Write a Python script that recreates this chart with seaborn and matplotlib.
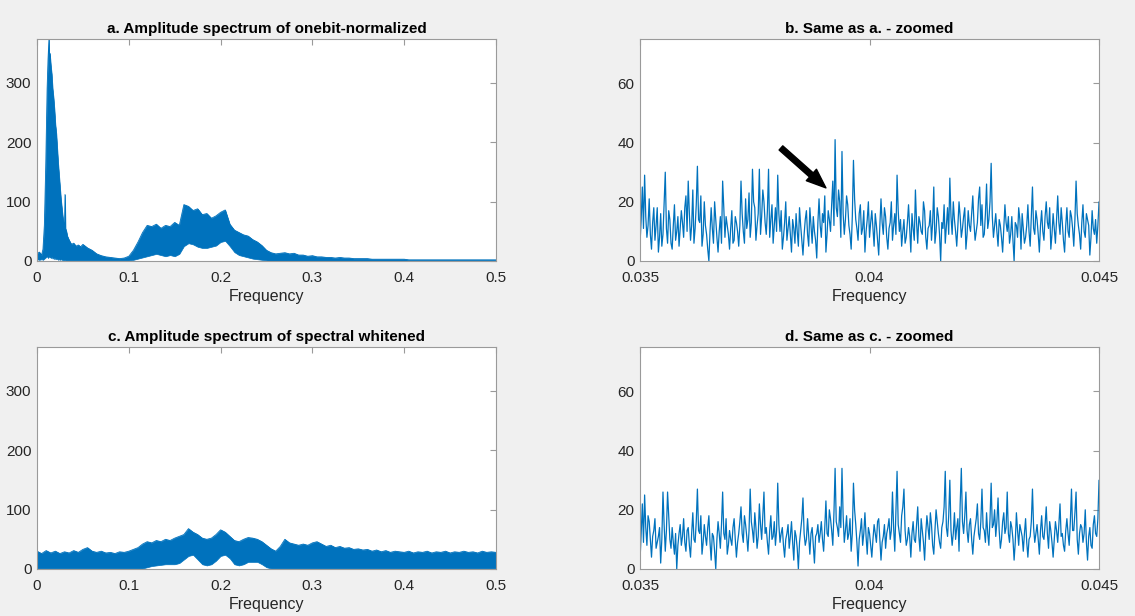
import matplotlib
matplotlib.use("Agg")
import matplotlib.pyplot as plt
import seaborn as sns

# Settings
sns.set_style("white")
plt.rcParams["font.family"] = ["Liberation Sans", "DejaVu Sans"]
blue = "#0072BD"
grey_bg = "#f0f0f0"
axis_col = "#9a9a9a"
text_col = "#262626"

# ---------------------------------------------------------------------
# Data
# a. onebit-normalized spectrum: upper / lower edge of the dense band
freq_a = [0, 0.0025, 0.005, 0.0065, 0.008, 0.0095, 0.011, 0.012, 0.013, 0.0135,
          0.014, 0.015, 0.016, 0.017, 0.018, 0.019, 0.02, 0.021, 0.022, 0.023,
          0.024, 0.025, 0.026, 0.027, 0.028, 0.029, 0.03, 0.0305, 0.031, 0.032,
          0.033, 0.035, 0.0375, 0.04, 0.0425, 0.045, 0.0475, 0.05]
freq_a += [round(0.05 + 0.005 * k, 3) for k in range(1, 91)]

upper_a = [12, 15, 10, 20, 60, 160, 290, 340, 374, 330,
           350, 330, 315, 290, 275, 255, 230, 215, 190, 165,
           145, 125, 105, 90, 75, 65, 60, 112, 55, 50,
           42, 35, 28, 30, 25, 27, 24, 28,
           22, 18, 12, 9, 7, 6, 5, 4, 5, 8,
           18, 32, 48, 60, 58, 62, 55, 60, 58, 65,
           60, 95, 92, 85, 88, 78, 80, 72, 76, 82,
           86, 62, 52, 48, 44, 42, 36, 32, 26, 18,
           14, 12, 13, 14, 12, 13, 10, 10, 8, 9,
           7, 7, 6, 6, 5, 6, 5, 5, 4, 4,
           4, 4, 3, 3, 3, 3, 3, 3, 3, 3,
           2, 2, 2, 2, 2, 2, 2, 2, 2, 2,
           2, 2, 2, 2, 2, 2, 2, 2, 2, 2]
lower_a = [3, 2, 3, 2, 4, 6, 8, 5, 10, 6,
           8, 5, 7, 4, 6, 3, 5, 3, 4, 2,
           3, 2, 3, 2, 2, 1, 2, 2, 1, 1,
           1, 1, 1, 1, 1, 1, 1, 1,
           1, 1, 1, 1, 1, 1, 1, 1, 1, 1,
           2, 4, 6, 8, 10, 12, 10, 8, 10, 8,
           12, 25, 30, 28, 24, 22, 22, 24, 26, 32,
           34, 25, 15, 10, 8, 6, 4, 3, 2, 1,
           0, 0, 0, 0, 0, 0, 0, 0, 0, 0,
           0, 0, 0, 0, 0, 0, 0, 0, 0, 0,
           0, 0, 0, 0, 0, 0, 0, 0, 0, 0,
           0, 0, 0, 0, 0, 0, 0, 0, 0, 0,
           0, 0, 0, 0, 0, 0, 0, 0, 0, 0]

# c. spectral whitened spectrum
freq_c = [round(0.005 * k, 3) for k in range(101)]
upper_c = [30, 26, 31, 27, 30, 26, 29, 27, 31, 28,
           33, 36, 30, 28, 30, 27, 28, 26, 29, 28,
           30, 33, 36, 42, 46, 44, 48, 46, 50, 48,
           52, 55, 58, 68, 62, 58, 52, 50, 52, 58,
           66, 62, 55, 48, 46, 50, 53, 52, 50, 46,
           40, 34, 30, 38, 50, 44, 42, 40, 42, 40,
           44, 46, 42, 38, 40, 36, 38, 35, 36, 33,
           34, 32, 33, 30, 32, 29, 31, 28, 30, 29,
           28, 30, 27, 29, 28, 30, 27, 29, 28, 30,
           27, 29, 28, 30, 28, 29, 27, 30, 28, 29,
           28]
lower_c = [1, 1, 1, 1, 1, 1, 1, 1, 1, 1,
           1, 1, 1, 1, 1, 1, 1, 1, 1, 1,
           1, 1, 1, 1, 3, 5, 6, 7, 8, 8,
           8, 10, 16, 22, 24, 16, 8, 6, 8, 14,
           22, 24, 18, 8, 6, 8, 12, 12, 12, 8,
           3, 1, 1, 1, 1, 1, 1, 1, 1, 1,
           1, 1, 1, 1, 1, 1, 1, 1, 1, 1,
           1, 1, 1, 1, 1, 1, 1, 1, 1, 1,
           1, 1, 1, 1, 1, 1, 1, 1, 1, 1,
           1, 1, 1, 1, 1, 1, 1, 1, 1, 1,
           1]

# b. / d. zoomed band 0.035 - 0.045
freq_zoom = [round(0.035 + 0.000025 * k, 6) for k in range(401)]
amp_b = [6, 14, 25, 11, 29, 15, 8, 12, 21, 9, 4, 13, 18, 7, 12, 18, 3, 8, 16, 5,
         9, 20, 30, 11, 6, 17, 14, 6, 4, 12, 19, 7, 10, 15, 5, 11, 17, 13, 8, 18,
         22, 10, 27, 16, 7, 12, 24, 6, 11, 19, 32, 14, 13, 22, 5, 9, 20, 12, 9, 4,
         0, 10, 18, 11, 6, 20, 14, 8, 3, 10, 15, 6, 27, 18, 8, 15, 12, 9, 4, 11,
         17, 6, 7, 15, 13, 10, 5, 12, 27, 16, 10, 6, 21, 11, 14, 23, 8, 13, 31, 20,
         18, 7, 12, 16, 31, 9, 15, 24, 20, 13, 9, 17, 31, 8, 14, 19, 6, 12, 18, 10,
         29, 16, 10, 17, 4, 8, 13, 20, 7, 11, 15, 9, 3, 14, 11, 6, 16, 10, 5, 18,
         12, 7, 2, 9, 14, 17, 9, 5, 18, 12, 6, 15, 10, 7, 1, 13, 21, 12, 8, 16,
         13, 22, 3, 9, 17, 14, 10, 19, 27, 12, 41, 18, 15, 24, 20, 8, 37, 16, 9, 14,
         22, 19, 12, 9, 4, 15, 34, 21, 14, 11, 7, 16, 19, 9, 11, 17, 3, 10, 14, 20,
         8, 13, 17, 11, 5, 16, 12, 7, 2, 12, 21, 13, 9, 18, 15, 8, 4, 11, 13, 20,
         7, 12, 16, 9, 29, 17, 10, 14, 5, 10, 14, 6, 8, 13, 19, 11, 3, 16, 11, 7,
         24, 13, 6, 15, 13, 10, 9, 20, 17, 8, 4, 11, 12, 17, 7, 13, 25, 6, 10, 18,
         15, 9, 0, 13, 11, 19, 6, 12, 18, 9, 28, 15, 9, 20, 14, 10, 5, 12, 20, 15,
         8, 11, 15, 18, 4, 9, 17, 12, 10, 16, 22, 13, 7, 10, 13, 21, 25, 12, 19, 8,
         9, 16, 26, 11, 14, 20, 33, 15, 8, 12, 16, 10, 5, 14, 12, 8, 3, 11, 19, 13,
         10, 15, 6, 9, 15, 7, 0, 13, 12, 8, 18, 14, 4, 16, 11, 6, 8, 12, 19, 10,
         5, 15, 25, 11, 9, 17, 14, 9, 3, 12, 17, 10, 7, 15, 20, 13, 11, 18, 4, 9,
         16, 11, 6, 14, 22, 13, 9, 18, 13, 7, 3, 12, 18, 10, 8, 17, 15, 11, 5, 14,
         27, 16, 12, 9, 4, 13, 19, 10, 8, 16, 14, 12, 2, 8, 17, 11, 9, 14, 6, 12,
         20]
amp_d = [3, 12, 22, 9, 25, 14, 8, 18, 16, 10, 4, 11, 13, 17, 7, 9, 11, 14, 2, 10,
         26, 15, 6, 13, 26, 18, 10, 7, 14, 9, 5, 12, 0, 8, 12, 15, 8, 11, 17, 9,
         6, 13, 14, 8, 4, 12, 19, 10, 9, 16, 27, 13, 12, 18, 5, 9, 15, 11, 8, 14,
         18, 9, 3, 12, 11, 6, 0, 10, 16, 12, 7, 15, 26, 12, 10, 17, 5, 8, 13, 10,
         8, 14, 17, 10, 4, 9, 12, 16, 21, 12, 9, 18, 15, 11, 6, 13, 27, 16, 13, 9,
         19, 14, 7, 11, 22, 15, 10, 18, 26, 12, 14, 9, 5, 13, 18, 10, 11, 16, 8, 13,
         29, 15, 9, 12, 14, 8, 4, 10, 12, 15, 7, 11, 16, 9, 3, 13, 11, 7, 0, 9,
         13, 17, 24, 12, 8, 10, 17, 11, 5, 12, 14, 8, 2, 11, 12, 15, 9, 12, 16, 10,
         6, 14, 23, 12, 11, 20, 17, 13, 8, 19, 34, 16, 14, 11, 21, 14, 34, 18, 9, 13,
         18, 10, 12, 17, 6, 12, 29, 20, 15, 9, 1, 10, 13, 17, 8, 12, 19, 11, 5, 14,
         12, 8, 4, 10, 15, 12, 9, 16, 17, 10, 3, 9, 11, 15, 7, 12, 14, 17, 10, 13,
         26, 14, 6, 19, 33, 15, 12, 9, 18, 21, 27, 13, 8, 10, 14, 11, 4, 12, 16, 10,
         9, 15, 21, 11, 6, 17, 13, 9, 3, 12, 18, 14, 10, 19, 15, 8, 5, 13, 20, 16,
         12, 9, 7, 14, 16, 21, 33, 14, 11, 18, 30, 13, 8, 12, 19, 10, 14, 17, 6, 22,
         34, 16, 12, 18, 26, 13, 9, 15, 17, 10, 5, 11, 14, 17, 22, 12, 10, 16, 27, 14,
         13, 9, 19, 12, 8, 17, 29, 14, 15, 20, 11, 16, 24, 13, 7, 10, 16, 19, 12, 14,
         26, 12, 9, 16, 14, 10, 3, 9, 19, 13, 8, 15, 13, 11, 6, 12, 17, 9, 4, 10,
         11, 16, 27, 14, 9, 12, 15, 10, 5, 13, 18, 11, 10, 15, 21, 12, 7, 16, 13, 9,
         4, 10, 16, 13, 9, 15, 22, 11, 12, 8, 6, 13, 17, 12, 8, 16, 27, 13, 13, 19,
         26, 10, 5, 12, 15, 14, 9, 12, 20, 9, 3, 11, 14, 8, 7, 15, 18, 12, 11, 17,
         30]

titles = ["a. Amplitude spectrum of onebit-normalized",
          "b. Same as a. - zoomed",
          "c. Amplitude spectrum of spectral whitened",
          "d. Same as c. - zoomed"]

# ---------------------------------------------------------------------
fig = plt.figure(figsize=(11.35, 6.16), dpi=100, facecolor=grey_bg)
ax_a = fig.add_axes([0.0326, 0.5763, 0.4044, 0.3604])
ax_b = fig.add_axes([0.5639, 0.5763, 0.4044, 0.3604])
ax_c = fig.add_axes([0.0326, 0.0763, 0.4044, 0.3604])
ax_d = fig.add_axes([0.5639, 0.0763, 0.4044, 0.3604])

# wide spectra
for ax, f, lo, hi in [(ax_a, freq_a, lower_a, upper_a), (ax_c, freq_c, lower_c, upper_c)]:
    ax.fill_between(f, lo, hi, color=blue, linewidth=0.5)
    sns.lineplot(x=f, y=hi, ax=ax, color=blue, linewidth=0.6, estimator=None)
    ax.set_xlim(0, 0.5)
    ax.set_ylim(0, 374)
    ax.set_xticks([0, 0.1, 0.2, 0.3, 0.4, 0.5])
    ax.set_xticklabels(["0", "0.1", "0.2", "0.3", "0.4", "0.5"])
    ax.set_yticks([0, 100, 200, 300])

# zoomed spectra
for ax, amp in [(ax_b, amp_b), (ax_d, amp_d)]:
    sns.lineplot(x=freq_zoom, y=amp, ax=ax, color=blue, linewidth=0.9, estimator=None)
    ax.set_xlim(0.035, 0.045)
    ax.set_ylim(0, 75)
    ax.set_xticks([0.035, 0.04, 0.045])
    ax.set_xticklabels(["0.035", "0.04", "0.045"])
    ax.set_yticks([0, 20, 40, 60])

# arrow pointing at the peak in b
ax_b.annotate("", xy=(0.03905, 24.7), xytext=(0.03807, 38.2),
              arrowprops=dict(facecolor="black", edgecolor="black",
                              width=4, headwidth=11, headlength=14))

# MATLAB-like look
for ax, title in zip([ax_a, ax_b, ax_c, ax_d], titles):
    ax.set_facecolor("white")
    ax.set_title(title, fontsize=11, fontweight="bold", color="black", pad=4)
    ax.set_xlabel("Frequency", fontsize=11.5, color=text_col, labelpad=3)
    ax.set_ylabel("")
    for sp in ax.spines.values():
        sp.set_color(axis_col)
        sp.set_linewidth(0.8)
    ax.tick_params(direction="in", length=4, width=0.8, color=axis_col,
                   labelcolor=text_col, labelsize=11, top=True, right=True)
    ax.tick_params(axis="x", pad=7)
    ax.tick_params(axis="y", pad=4)

plt.savefig("out.png", dpi=100, facecolor=grey_bg)
